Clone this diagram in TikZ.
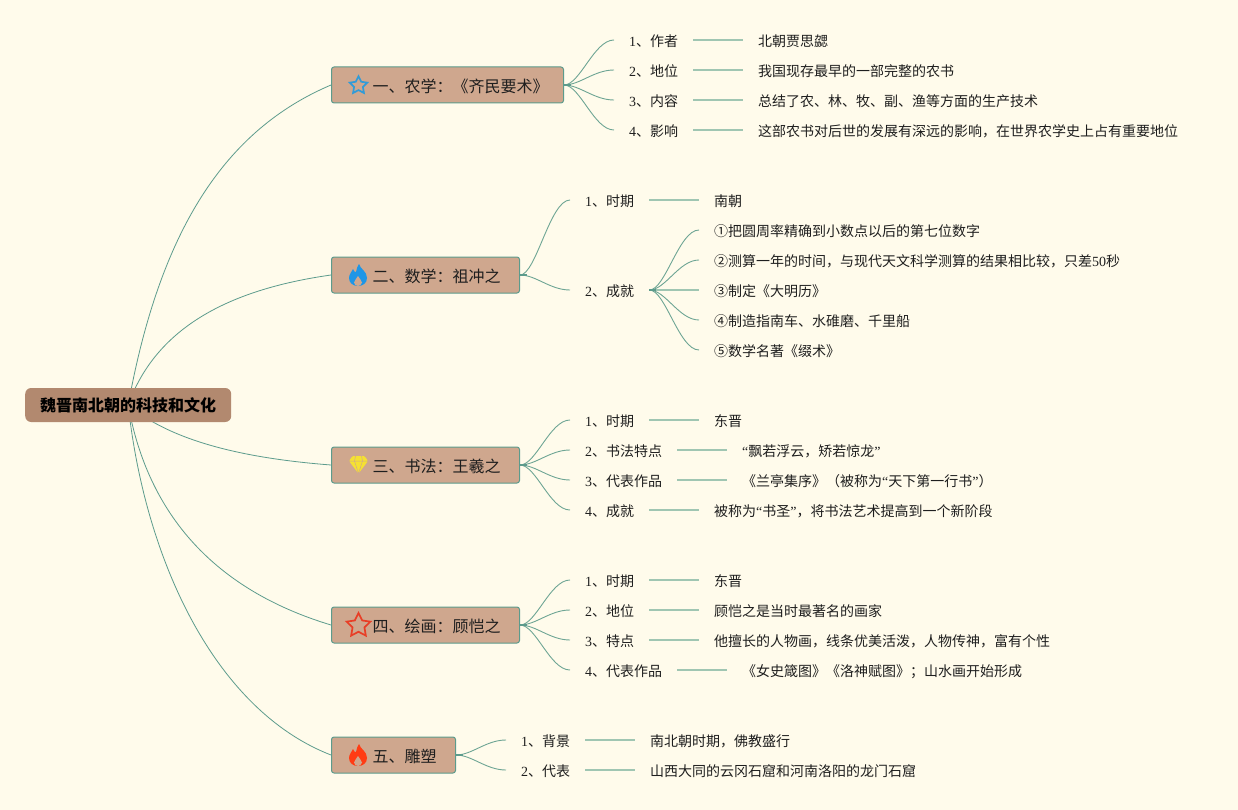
\documentclass[tikz,border=0pt]{standalone}
\usepackage{fontspec}
\setmainfont{Noto Sans CJK SC}
\newfontfamily\ltn{Liberation Serif}
\usetikzlibrary{shapes.geometric,backgrounds}
\definecolor{bgc}{RGB}{255,251,235}
\definecolor{rootc}{RGB}{178,137,111}
\definecolor{branchc}{RGB}{207,167,142}
\definecolor{edgec}{RGB}{92,155,140}
\definecolor{curvec}{RGB}{110,165,148}
\definecolor{leafline}{RGB}{160,198,178}
\definecolor{txt}{RGB}{30,30,30}
\definecolor{iconblue}{RGB}{50,155,215}
\definecolor{flameblue}{RGB}{30,150,230}
\definecolor{iconred}{RGB}{232,62,38}
\definecolor{flamered}{RGB}{255,60,20}
\definecolor{iconyellow}{RGB}{245,225,50}
\tikzset{
 rootbox/.style={anchor=west,fill=rootc,rounded corners=6pt,minimum width=206pt,minimum height=34pt,inner sep=0pt,text=black,font=\fontsize{16}{16}\selectfont\bfseries},
 branchbox/.style={anchor=west,fill=branchc,draw=edgec,line width=1pt,rounded corners=2.5pt,minimum height=36pt,inner xsep=0pt,inner ysep=0pt,align=left,text=txt,text height=16pt,text depth=1pt,font=\fontsize{16}{16}\selectfont},
 item/.style={anchor=west,inner xsep=15pt,inner ysep=0pt,text=txt,text height=14.4pt,text depth=1pt,font=\fontsize{14}{14}\selectfont},
 rootlink/.style={draw=edgec,line width=.8pt},
 curvelink/.style={draw=curvec,line width=.9pt},
 stublink/.style={draw=edgec,line width=2pt},
 straightlink/.style={draw=leafline,line width=1.5pt},
 iconstar/.style={star,star points=5,star point ratio=2,inner sep=0pt,line width=1.7pt,fill=none},
}
\newcommand{\sclink}[2]{\draw[curvelink] (#1) .. controls +(16,0) and +(-20,0) .. (#2);}
\newcommand{\flamepath}{(1,-11) .. controls (2,-6) and (9,-4) .. (9,3) .. controls (9,8) and (5,11) .. (0,11) .. controls (-5,11) and (-9,8) .. (-9,3) .. controls (-9,-1) and (-6,-3) .. (-5,-6) .. controls (-4,-3) and (-3,-3) .. (-2,-3) .. controls (-1,-6) and (-1,-9) .. (1,-11) -- cycle}
\newcommand{\flameinner}{(0,1) .. controls (1,4) and (4,5) .. (4,7.5) .. controls (4,10) and (1,11) .. (0,11) .. controls (-2,11) and (-4,9.5) .. (-4,7.5) .. controls (-4,5) and (-1,4) .. (0,1) -- cycle}
\begin{document}
\begin{tikzpicture}[x=1pt,y=-1pt]
\begin{pgfonlayer}{background}
\useasboundingbox[fill=bgc] (0,0) rectangle (1238,810);
\end{pgfonlayer}
% nodes
\node[rootbox] (root) at (25,405) {魏晋南北朝的科技和文化};
\node[branchbox,text width=232pt] (b1) at (331,85) {\hspace*{41pt}一、农学：《齐民要术》};
\node[branchbox,text width=188pt] (b2) at (331,275) {\hspace*{41pt}二、数学：祖冲之};
\node[branchbox,text width=188pt] (b3) at (331,465) {\hspace*{41pt}三、书法：王羲之};
\node[branchbox,text width=188pt] (b4) at (331,625) {\hspace*{41pt}四、绘画：顾恺之};
\node[branchbox,text width=124pt] (b5) at (331,755) {\hspace*{41pt}五、雕塑};
% branch 1
\node[item] (a1) at (614,40) {{\ltn 1}、作者};
\node[item] (a2) at (614,70) {{\ltn 2}、地位};
\node[item] (a3) at (614,100) {{\ltn 3}、内容};
\node[item] (a4) at (614,130) {{\ltn 4}、影响};
\node[item] (av1) at (743,40) {北朝贾思勰};
\node[item] (av2) at (743,70) {我国现存最早的一部完整的农书};
\node[item] (av3) at (743,100) {总结了农、林、牧、副、渔等方面的生产技术};
\node[item] (av4) at (743,130) {这部农书对后世的发展有深远的影响，在世界农学史上占有重要地位};
% branch 2
\node[item] (c1) at (570,200) {{\ltn 1}、时期};
\node[item] (c2) at (570,290) {{\ltn 2}、成就};
\node[item] (cv1) at (699,200) {南朝};
\node[item] (cs1) at (699,230) {①把圆周率精确到小数点以后的第七位数字};
\node[item] (cs2) at (699,260) {②测算一年的时间，与现代天文科学测算的结果相比较，只差{\ltn 50}秒};
\node[item] (cs3) at (699,290) {③制定《大明历》};
\node[item] (cs4) at (699,320) {④制造指南车、水碓磨、千里船};
\node[item] (cs5) at (699,350) {⑤数学名著《缀术》};
% branch 3
\node[item] (d1) at (570,420) {{\ltn 1}、时期};
\node[item] (d2) at (570,450) {{\ltn 2}、书法特点};
\node[item] (d3) at (570,480) {{\ltn 3}、代表作品};
\node[item] (d4) at (570,510) {{\ltn 4}、成就};
\node[item] (dv1) at (699,420) {东晋};
\node[item] (dv2) at (727,450) {{\ltn “}飘若浮云，矫若惊龙{\ltn ”}};
\node[item] (dv3) at (727,480) {《兰亭集序》（被称为{\ltn “}天下第一行书{\ltn ”}）};
\node[item] (dv4) at (699,510) {被称为{\ltn “}书圣{\ltn ”}，将书法艺术提高到一个新阶段};
% branch 4
\node[item] (e1) at (570,580) {{\ltn 1}、时期};
\node[item] (e2) at (570,610) {{\ltn 2}、地位};
\node[item] (e3) at (570,640) {{\ltn 3}、特点};
\node[item] (e4) at (570,670) {{\ltn 4}、代表作品};
\node[item] (ev1) at (699,580) {东晋};
\node[item] (ev2) at (699,610) {顾恺之是当时最著名的画家};
\node[item] (ev3) at (699,640) {他擅长的人物画，线条优美活泼，人物传神，富有个性};
\node[item] (ev4) at (727,670) {《女史箴图》《洛神赋图》；山水画开始形成};
% branch 5
\node[item] (f1) at (506,740) {{\ltn 1}、背景};
\node[item] (f2) at (506,770) {{\ltn 2}、代表};
\node[item] (fv1) at (635,740) {南北朝时期，佛教盛行};
\node[item] (fv2) at (635,770) {山西大同的云冈石窟和河南洛阳的龙门石窟};
% root links behind the root box
\begin{pgfonlayer}{background}
\draw[rootlink] (root.center) .. controls (160,230) and (225,130) .. (b1.west);
\draw[rootlink] (root.center) .. controls (155,330) and (225,290) .. (b2.west);
\draw[rootlink] (root.center) .. controls (170,440) and (240,458) .. (b3.west);
\draw[rootlink] (root.center) .. controls (148,515) and (215,590) .. (b4.west);
\draw[rootlink] (root.center) .. controls (145,560) and (215,710) .. (b5.west);
\end{pgfonlayer}
% curves
\sclink{b1.east}{a1.west}\sclink{b1.east}{a2.west}\sclink{b1.east}{a3.west}\sclink{b1.east}{a4.west}
\sclink{b2.east}{c1.west}\sclink{b2.east}{c2.west}
\sclink{c2.east}{cs1.west}\sclink{c2.east}{cs2.west}\sclink{c2.east}{cs4.west}\sclink{c2.east}{cs5.west}
\sclink{b3.east}{d1.west}\sclink{b3.east}{d2.west}\sclink{b3.east}{d3.west}\sclink{b3.east}{d4.west}
\sclink{b4.east}{e1.west}\sclink{b4.east}{e2.west}\sclink{b4.east}{e3.west}\sclink{b4.east}{e4.west}
\sclink{b5.east}{f1.west}\sclink{b5.east}{f2.west}
% straight
\foreach \p/\q in {a1/av1,a2/av2,a3/av3,a4/av4,c1/cv1,d1/dv1,d2/dv2,d3/dv3,d4/dv4,e1/ev1,e2/ev2,e3/ev3,e4/ev4,f1/fv1,f2/fv2,c2/cs3}
  \draw[straightlink] (\p.east) -- (\q.west);
% thick starts of the fans
\foreach \p in {b1,b2,b3,b4,b5,c2}
  \draw[stublink] (\p.east) -- +(7,0);
% icons
\node[iconstar,draw=iconblue,minimum size=18.5pt] (i1) at (358.5,85.5) {};
\node[iconstar,draw=iconred,minimum size=25pt] (i4) at (358.5,625.5) {};
\begin{scope}[shift={(358,275)}]
 \fill[flameblue] \flamepath;
 \fill[branchc] \flameinner;
\end{scope}
\begin{scope}[shift={(358,755)}]
 \fill[flamered] \flamepath;
 \fill[branchc] \flameinner;
\end{scope}
\begin{scope}[shift={(358.5,465)}]
 \fill[iconyellow,rounded corners=1pt] (-6,-9) -- (6,-9) -- (9.5,-4) -- (0,8.5) -- (-9.5,-4) -- cycle;
 \draw[branchc,line width=.5pt] (-9.5,-4) -- (9.5,-4) (-3,-9) -- (-4,-4) -- (0,8.5) -- (4,-4) -- (3,-9);
\end{scope}
\end{tikzpicture}
\end{document}
